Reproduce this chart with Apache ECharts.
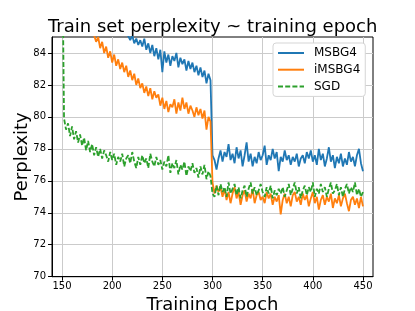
<!DOCTYPE html>
<html><head><meta charset="utf-8">
<script src="https://cdn.jsdelivr.net/npm/echarts@6/dist/echarts.min.js"></script>
<style>html,body{margin:0;padding:0;background:#fff}#c{width:415px;height:311px}</style>
</head><body><div id="c"></div>
<script>
const epochs = [
150,152,154,156,158,160,162,164,166,168,
170,172,174,176,178,180,182,184,186,188,
190,192,194,196,198,200,202,204,206,208,
210,212,214,216,218,220,222,224,226,228,
230,232,234,236,238,240,242,244,246,248,
250,252,254,256,258,260,262,264,266,268,
270,272,274,276,278,280,282,284,286,288,
290,292,294,296,298,300,302,304,306,308,
310,312,314,316,318,320,322,324,326,328,
330,332,334,336,338,340,342,344,346,348,
350,352,354,356,358,360,362,364,366,368,
370,372,374,376,378,380,382,384,386,388,
390,392,394,396,398,400,402,404,406,408,
410,412,414,416,418,420,422,424,426,428,
430,432,434,436,438,440,442,444,446,448,
450];
const msbg4 = [
91.0,90.8,90.5,90.3,90.1,89.8,89.7,89.4,89.2,89.0,
88.8,88.6,88.5,88.2,88.0,87.9,87.6,87.5,87.3,87.1,
86.9,86.8,86.6,86.4,86.3,86.1,86.0,85.8,85.7,85.5,
85.4,85.2,85.3,85.05,84.8,85.1,84.6,84.9,84.5,84.8,
84.4,84.9,84.2,84.6,84.0,84.5,83.8,84.3,83.6,84.2,
82.8,84.1,83.4,83.9,83.2,83.8,83.5,84.0,83.1,83.7,
83.3,83.6,82.9,83.5,83.0,83.4,82.8,83.2,82.6,83.1,
82.5,82.9,82.1,82.7,82.3,77.6,77.3,76.7,77.4,77.9,
77.2,77.8,77.5,78.3,77.3,77.7,77.1,78.1,77.4,77.9,
76.9,77.6,78.4,77.2,77.7,76.9,77.5,77.1,77.8,77.3,
77.6,78.2,77.0,77.6,77.3,78.0,77.4,77.8,76.6,77.5,
77.2,77.9,77.3,77.6,77.0,77.5,77.2,77.7,76.9,77.4,
77.6,77.1,77.8,77.4,77.9,77.2,77.6,77.0,78.0,77.3,
77.7,76.9,77.4,78.1,77.2,77.6,76.8,77.5,77.1,77.7,
76.9,77.4,77.0,77.8,77.2,77.5,76.9,77.6,78.0,77.1,
76.6];
const imsbg4 = [
88.4,88.2,88.0,87.8,87.6,87.4,87.2,87.0,86.8,86.6,
86.3,86.1,85.9,85.7,85.5,85.3,85.1,84.7,85.0,84.3,
84.7,84.0,84.4,83.7,84.1,83.4,83.9,83.2,83.6,83.0,
83.4,82.8,83.2,82.5,82.9,82.3,82.7,82.0,82.4,81.8,
82.1,81.5,81.9,81.3,81.8,81.1,81.6,81.2,81.4,80.7,
81.2,80.5,81.0,80.3,80.8,80.6,81.1,80.2,80.9,80.4,
81.2,80.5,80.9,80.2,80.7,80.4,80.0,80.6,80.1,80.5,
79.9,80.4,79.2,80.0,79.7,75.9,75.2,75.7,75.3,75.6,
75.0,75.5,74.8,75.3,74.6,75.2,75.6,74.9,75.3,74.5,
75.1,75.4,74.7,75.2,74.9,75.5,74.6,75.1,75.3,74.8,
75.0,74.6,75.3,74.9,75.2,74.5,75.0,74.7,75.1,73.9,
74.8,75.2,74.6,75.0,74.4,75.1,75.3,74.7,75.0,74.5,
75.2,74.8,75.1,74.4,74.9,75.3,74.6,75.0,74.2,74.8,
75.1,74.5,75.0,74.7,75.2,74.3,74.9,74.6,75.1,74.4,
74.9,75.2,74.6,74.1,74.8,75.0,74.5,74.9,74.3,75.0,
74.4];
const sgd = [
92.0,79.9,79.2,79.6,78.8,79.4,78.6,79.1,78.4,78.9,
78.2,78.7,77.9,78.5,77.8,78.3,77.6,78.1,77.5,78.0,
77.4,77.9,77.6,77.2,77.8,77.3,77.7,77.0,77.5,77.2,
77.7,76.9,77.4,77.6,77.1,77.8,77.2,76.8,77.5,77.0,
77.6,77.1,77.4,76.8,77.7,77.2,76.9,77.5,77.0,77.3,
76.7,77.2,76.9,77.6,76.5,77.1,76.8,77.3,76.4,77.0,
76.7,77.2,76.3,76.9,76.6,77.1,76.5,76.8,76.2,76.9,
76.4,77.0,76.1,76.6,76.3,75.2,75.0,75.7,75.1,75.8,
75.3,75.6,75.0,75.9,75.2,75.5,75.8,75.1,75.6,74.9,
75.4,75.7,75.0,75.5,75.9,75.2,75.6,75.1,75.4,75.8,
75.3,75.0,75.6,75.2,75.7,74.9,75.4,75.1,75.5,75.2,
75.6,75.0,75.4,75.8,75.1,75.5,75.9,75.2,75.6,74.9,
75.4,75.7,75.1,75.6,75.3,75.9,75.0,75.5,75.2,75.8,
75.3,75.6,75.0,75.5,75.9,75.2,75.4,75.8,75.1,75.6,
75.0,75.5,75.8,75.2,75.6,75.3,75.9,75.1,75.5,75.0,
75.3];
const xTicks = [150,200,250,300,350,400,450];
const yTicks = [70,72,74,76,78,80,82,84];
const seriesNames = ['MSBG4','iMSBG4','SGD'];
const colors = ['#1f77b4','#ff7f0e','#2ca02c'];
const titleText = 'Train set perplexity ~ training epoch';
const xName = 'Training Epoch';
const yName = 'Perplexity';

const FONT = 'DejaVu Sans';
function pairs(vals){ return epochs.map((e,i)=>[e, vals[i]]); }
const chart = echarts.init(document.getElementById('c'), null, {renderer:'canvas'});
chart.setOption({
  animation: false,
  backgroundColor: '#fff',
  title: {
    text: titleText, left: 48, top: 18, padding: 0,
    textStyle: {fontFamily: FONT, fontSize: 18, fontWeight: 'normal', color: '#000'}
  },
  legend: {
    orient: 'vertical', left: 273, top: 43,
    padding: [4,5,4,4], itemWidth: 26, itemHeight: 14, itemGap: 4.7,
    backgroundColor: '#fff', borderColor: '#d5d5d5', borderWidth: 1, borderRadius: 3,
    itemStyle: {opacity: 0},
    textStyle: {fontFamily: FONT, fontSize: 12, color: '#000', padding: [0,0,0,5]},
    data: seriesNames
  },
  grid: {left: 52, right: 42, top: 37, bottom: 34.3, show: true, borderColor: '#000', borderWidth: 1,
         backgroundColor: 'transparent', outerBoundsMode: 'none', containLabel: false},
  xAxis: {
    type: 'value', min: 140, max: 460,
    name: xName, nameLocation: 'middle', nameGap: 20, nameMoveOverlap: false,
    nameTextStyle: {fontFamily: FONT, fontSize: 18, color: '#000'},
    axisLine: {show: true, lineStyle: {color: '#000', width: 1}},
    axisTick: {show: true, length: 4, customValues: xTicks, lineStyle: {color: '#000'}},
    axisLabel: {customValues: xTicks, margin: 5, fontFamily: FONT, fontSize: 10, color: '#000'},
    splitLine: {show: true, lineStyle: {color: '#cbcbcb', width: 1}}
  },
  yAxis: {
    type: 'value', min: 70, max: 85,
    name: yName, nameLocation: 'middle', nameGap: 21, nameMoveOverlap: false,
    nameTextStyle: {fontFamily: FONT, fontSize: 18, color: '#000'},
    axisLine: {show: true, lineStyle: {color: '#000', width: 1}},
    axisTick: {show: true, length: 4, customValues: yTicks, lineStyle: {color: '#000'}},
    axisLabel: {customValues: yTicks, margin: 6, fontFamily: FONT, fontSize: 10, color: '#000'},
    splitLine: {show: true, lineStyle: {color: '#cbcbcb', width: 1}}
  },
  series: [
    {name: seriesNames[0], type: 'line', data: pairs(msbg4), symbol: 'none', clip: true,
     color: colors[0], lineStyle: {color: colors[0], width: 1.8}},
    {name: seriesNames[1], type: 'line', data: pairs(imsbg4), symbol: 'none', clip: true,
     color: colors[1], lineStyle: {color: colors[1], width: 1.8}},
    {name: seriesNames[2], type: 'line', data: pairs(sgd), symbol: 'none', clip: true,
     color: colors[2], lineStyle: {color: colors[2], width: 1.8, type: [5, 2.2]}}
  ]
});
</script>
</body></html>
